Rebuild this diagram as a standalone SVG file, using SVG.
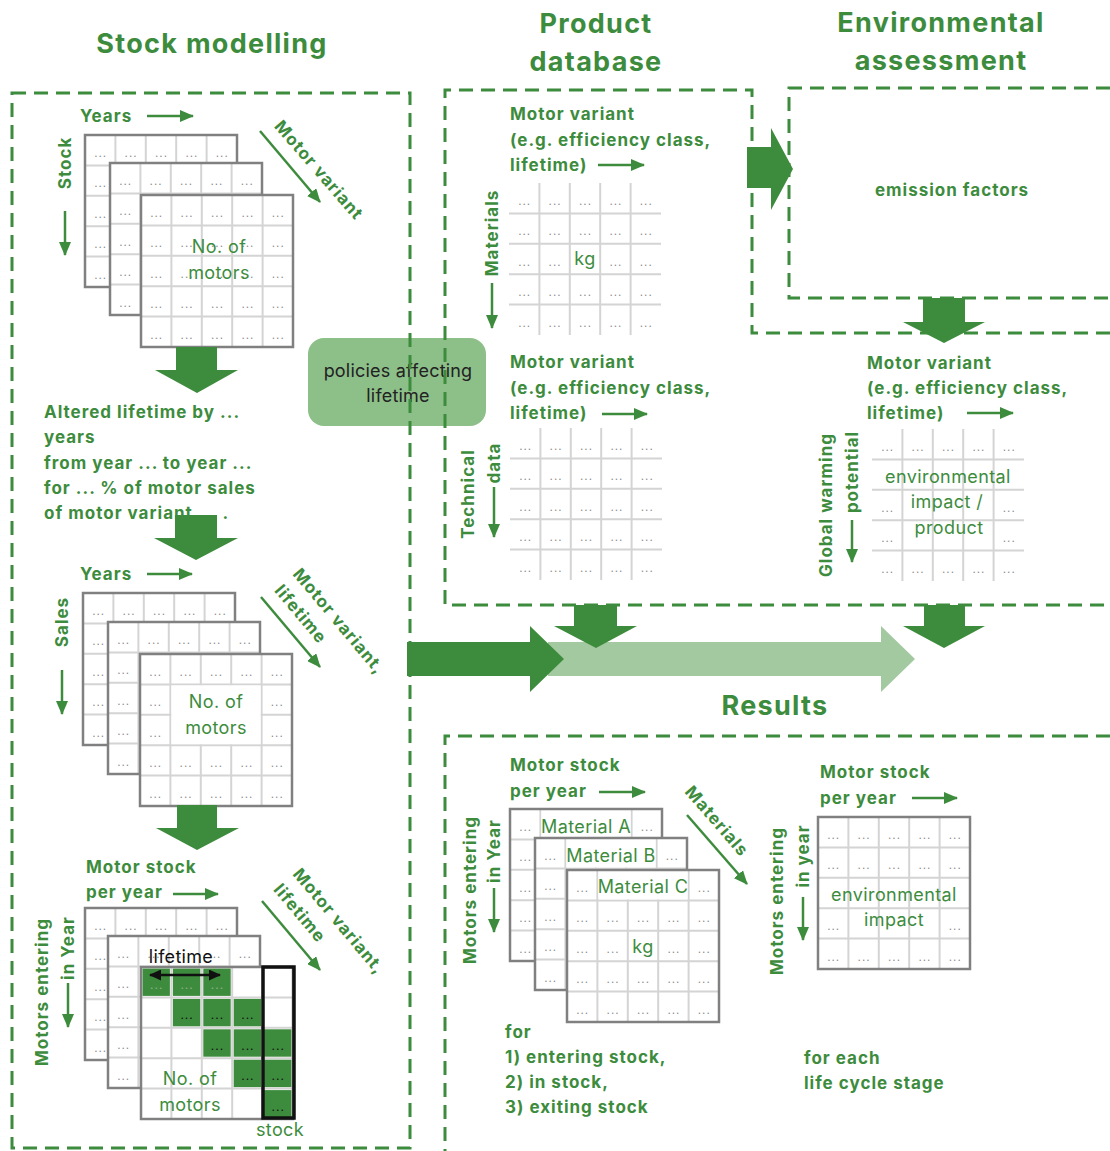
<svg xmlns="http://www.w3.org/2000/svg" width="1110" height="1151" viewBox="0 0 1110 1151">
<style>
text{font-family:Inter,"Open Sans","Liberation Sans",sans-serif}
.ttl{font-size:27px;font-weight:700;fill:#3d8c3d;text-anchor:middle;letter-spacing:1.3px}
.lb{font-size:17px;font-weight:700;fill:#3d8c3d;letter-spacing:1px}
.rg{font-size:18px;fill:#3d8c3d;letter-spacing:0.4px;text-anchor:middle}
.vc{text-anchor:middle;dominant-baseline:central}
.dot{font-family:"Liberation Sans",sans-serif;font-size:12px;fill:#8a8a8a;text-anchor:middle;letter-spacing:1px}
.box{fill:none;stroke:#3d8c3d;stroke-width:3;stroke-dasharray:14 8}
.ax{fill:none;stroke:#3d8c3d;stroke-width:2.5;marker-end:url(#ah)}
.il{fill:none;stroke:#d4d4d4;stroke-width:2}
.ob{fill:none;stroke:#808080;stroke-width:2.5}
.blk{fill:#3d8c3d}
.lt{fill:#a3c9a0}
.gc{fill:#3d8c3d}
</style>
<defs>
<marker id="ah" markerUnits="userSpaceOnUse" markerWidth="14" markerHeight="12" refX="13" refY="6" orient="auto"><path d="M0 0L14 6L0 12z" fill="#3d8c3d"/></marker>
<marker id="ahk" markerUnits="userSpaceOnUse" markerWidth="12" markerHeight="11" refX="11" refY="5.5" orient="auto-start-reverse"><path d="M0 0L12 5.5L0 11z" fill="#111"/></marker>
<g id="d"><text class="dot" x="15.7" y="22">...</text></g>
<g id="dr"><use href="#d"/><use href="#d" x="30.4"/><use href="#d" x="60.8"/><use href="#d" x="91.2"/><use href="#d" x="121.6"/></g>
<g id="edge"><use href="#d"/><use href="#d" x="121.6"/></g>
<g id="dd"><use href="#dr"/><use href="#dr" y="30.4"/><use href="#dr" y="60.8"/><use href="#dr" y="91.2"/><use href="#dr" y="121.6"/></g>
<g id="gl"><path class="il" d="M30.4 0V152M60.8 0V152M91.2 0V152M121.6 0V152M0 30.4H152M0 60.8H152M0 91.2H152M0 121.6H152"/></g>
<g id="grid"><rect width="152" height="152" fill="#fff"/><use href="#gl"/><use href="#dd"/><rect class="ob" width="152" height="152"/></g>
<g id="gridM"><rect width="152" height="152" fill="#fff"/><use href="#gl"/><use href="#edge"/><use href="#dr" y="30.4"/><use href="#dr" y="60.8"/><use href="#dr" y="91.2"/><use href="#dr" y="121.6"/><rect x="31.4" y="1" width="89.2" height="28.4" fill="#fff"/><rect class="ob" width="152" height="152"/></g>
</defs>

<rect width="1110" height="1151" fill="#fff"/>

<g id="titles">
<text class="ttl" x="212" y="53">Stock modelling</text>
<text class="ttl" x="596" y="33">Product</text>
<text class="ttl" x="596" y="71">database</text>
<text class="ttl" x="941" y="32">Environmental</text>
<text class="ttl" x="941" y="70">assessment</text>
<text class="ttl" x="775" y="715">Results</text>
</g>

<g id="policies">
<rect x="308" y="338" width="178" height="88" rx="16" fill="#8dbf89"/>
<text x="398" y="377" font-size="18" fill="#222" text-anchor="middle" letter-spacing="0.2">policies affecting</text>
<text x="398" y="402" font-size="18" fill="#222" text-anchor="middle" letter-spacing="0.2">lifetime</text>
</g>

<g id="frames">
<rect id="frame-stock" class="box" x="12" y="93" width="398" height="1055"/>
<path id="frame-product" class="box" d="M1110 333H752V90H445V605H1110"/>
<path id="frame-env" class="box" d="M1110 88H789V298H1110"/>
<path id="frame-results" class="box" d="M1110 736H445V1151"/>
</g>

<g id="stock-grid">
<text class="lb" x="80" y="122">Years</text>
<path class="ax" d="M147 116H193"/>
<text class="lb vc" transform="translate(65 163) rotate(-90)">Stock</text>
<path class="ax" d="M65 211V255"/>
<text class="lb vc" transform="translate(319 170) rotate(49)">Motor variant</text>
<path class="ax" d="M260 131L320 202"/>
<use href="#grid" x="85" y="135"/>
<use href="#grid" x="110" y="163"/>
<use href="#grid" x="141" y="195"/>
<text class="rg" x="219" y="253">No. of</text>
<text class="rg" x="219" y="279">motors</text>
</g>

<g id="altered-lifetime">
<text class="lb" x="44" y="418">Altered lifetime by ...</text>
<text class="lb" x="44" y="443">years</text>
<text class="lb" x="44" y="469">from year ... to year ...</text>
<text class="lb" x="44" y="494">for ... % of motor sales</text>
<text class="lb" x="44" y="519">of motor variant ... .</text>
</g>

<g id="sales-grid">
<text class="lb" x="80" y="580">Years</text>
<path class="ax" d="M147 574H192"/>
<text class="lb vc" transform="translate(62 622) rotate(-90)">Sales</text>
<path class="ax" d="M62 670V714"/>
<text class="lb vc" transform="translate(339 621) rotate(50)">Motor variant,</text>
<text class="lb vc" transform="translate(301 614) rotate(50)">lifetime</text>
<path class="ax" d="M261 597L320 667"/>
<use href="#grid" x="83" y="593"/>
<use href="#grid" x="108" y="622"/>
<use href="#grid" x="140" y="654"/>
<rect x="171.4" y="685.4" width="89.2" height="58.8" fill="#fff"/>
<text class="rg" x="216" y="708">No. of</text>
<text class="rg" x="216" y="734">motors</text>
</g>

<g id="motor-stock-grid">
<text class="lb" x="86" y="873">Motor stock</text>
<text class="lb" x="86" y="898">per year</text>
<path class="ax" d="M173 894H218"/>
<text class="lb vc" transform="translate(42 992) rotate(-90)">Motors entering</text>
<text class="lb vc" transform="translate(68 948) rotate(-90)">in Year</text>
<path class="ax" d="M68 983V1027"/>
<text class="lb vc" transform="translate(339 921) rotate(50)">Motor variant,</text>
<text class="lb vc" transform="translate(300 913) rotate(50)">lifetime</text>
<path class="ax" d="M262 901L320 970"/>
<use href="#grid" x="85" y="908"/>
<use href="#grid" x="108" y="936"/>
<rect x="141" y="967" width="152" height="152" fill="#fff"/>
<use href="#gl" x="141" y="967"/>
<g class="gc">
<rect x="142.5" y="968.5" width="27.4" height="27.4"/><rect x="172.9" y="968.5" width="27.4" height="27.4"/><rect x="203.3" y="968.5" width="27.4" height="27.4"/>
<rect x="172.9" y="998.9" width="27.4" height="27.4"/><rect x="203.3" y="998.9" width="27.4" height="27.4"/><rect x="233.7" y="998.9" width="27.4" height="27.4"/>
<rect x="203.3" y="1029.3" width="27.4" height="27.4"/><rect x="233.7" y="1029.3" width="27.4" height="27.4"/><rect x="264.1" y="1029.3" width="27.4" height="27.4"/>
<rect x="233.7" y="1059.7" width="27.4" height="27.4"/><rect x="264.1" y="1059.7" width="27.4" height="27.4"/>
<rect x="264.1" y="1090.1" width="27.4" height="27.4"/>
</g>
<g font-family="Liberation Sans,sans-serif" font-size="12" text-anchor="middle" letter-spacing="1">
<text x="156.7" y="989" fill="#8fae8f">...</text><text x="187.1" y="989" fill="#8fae8f">...</text><text x="217.5" y="989" fill="#8fae8f">...</text>
<text x="187.1" y="1019.4" fill="#111">...</text><text x="217.5" y="1019.4" fill="#111">...</text><text x="247.9" y="1019.4" fill="#111">...</text>
<text x="217.5" y="1049.8" fill="#111">...</text><text x="247.9" y="1049.8" fill="#111">...</text><text x="278.3" y="1049.8" fill="#111">...</text>
<text x="247.9" y="1080.2" fill="#111">...</text><text x="278.3" y="1080.2" fill="#111">...</text>
<text x="278.3" y="1110.6" fill="#111">...</text>
</g>
<rect class="ob" x="141" y="967" width="152" height="152"/>
<rect x="263" y="967" width="31" height="151" fill="none" stroke="#111" stroke-width="3.5"/>
<text class="rg" x="190" y="1085">No. of</text>
<text class="rg" x="190" y="1111">motors</text>
<text x="181" y="963" font-size="18" fill="#111" text-anchor="middle" letter-spacing="0.3">lifetime</text>
<path d="M150 975H220" stroke="#111" stroke-width="2.5" fill="none" marker-start="url(#ahk)" marker-end="url(#ahk)"/>
<text class="rg" x="280" y="1136">stock</text>
</g>

<g id="product-materials">
<text class="lb" x="510" y="120">Motor variant</text>
<text class="lb" x="510" y="146">(e.g. efficiency class,</text>
<text class="lb" x="510" y="171">lifetime)</text>
<path class="ax" d="M598 165H644"/>
<text class="lb vc" transform="translate(492 233) rotate(-90)">Materials</text>
<path class="ax" d="M492 283V328"/>
<g transform="translate(509 183)">
<use href="#gl"/>
<use href="#dr"/><use href="#dr" y="30.4"/>
<use href="#d" y="60.8"/><use href="#d" x="30.4" y="60.8"/><use href="#d" x="91.2" y="60.8"/><use href="#d" x="121.6" y="60.8"/>
<use href="#dr" y="91.2"/><use href="#dr" y="121.6"/>
</g>
<text class="rg" x="585" y="265">kg</text>
</g>

<g id="product-technical">
<text class="lb" x="510" y="368">Motor variant</text>
<text class="lb" x="510" y="394">(e.g. efficiency class,</text>
<text class="lb" x="510" y="419">lifetime)</text>
<path class="ax" d="M602 414H647"/>
<text class="lb vc" transform="translate(468 494) rotate(-90)">Technical</text>
<text class="lb vc" transform="translate(494 463) rotate(-90)">data</text>
<path class="ax" d="M494 487V537"/>
<g transform="translate(510 428)"><use href="#gl"/><use href="#dd"/></g>
</g>

<g id="emission-factors">
<text class="lb" x="952" y="196" text-anchor="middle" font-size="17">emission factors</text>
</g>

<g id="env-impact-product">
<text class="lb" x="867" y="369">Motor variant</text>
<text class="lb" x="867" y="394">(e.g. efficiency class,</text>
<text class="lb" x="867" y="419">lifetime)</text>
<path class="ax" d="M967 413H1013"/>
<text class="lb vc" transform="translate(826 505) rotate(-90)">Global warming</text>
<text class="lb vc" transform="translate(852 472) rotate(-90)">potential</text>
<path class="ax" d="M852 520V562"/>
<g transform="translate(872 429)">
<use href="#gl"/>
<use href="#dr"/>
<use href="#edge" y="60.8"/><use href="#edge" y="91.2"/>
<use href="#dr" y="121.6"/>
</g>
<text class="rg" x="948" y="483">environmental</text>
<text class="rg" x="947" y="508">impact /</text>
<text class="rg" x="949" y="534">product</text>
</g>

<g id="results-materials">
<text class="lb" x="510" y="771">Motor stock</text>
<text class="lb" x="510" y="797">per year</text>
<path class="ax" d="M599 792H645"/>
<text class="lb vc" transform="translate(470 890) rotate(-90)">Motors entering</text>
<text class="lb vc" transform="translate(494 851) rotate(-90)">in Year</text>
<path class="ax" d="M494 888V932"/>
<text class="lb vc" transform="translate(717 821) rotate(49)">Materials</text>
<path class="ax" d="M687 815L747 884"/>
<use href="#gridM" x="510" y="809"/>
<text class="rg" x="586" y="833">Material A</text>
<use href="#gridM" x="535" y="838"/>
<text class="rg" x="611" y="862">Material B</text>
<g transform="translate(567 870)">
<rect width="152" height="152" fill="#fff"/>
<use href="#gl"/>
<use href="#edge"/>
<use href="#dr" y="30.4"/>
<use href="#d" y="60.8"/><use href="#d" x="30.4" y="60.8"/><use href="#d" x="91.2" y="60.8"/><use href="#d" x="121.6" y="60.8"/>
<use href="#dr" y="91.2"/><use href="#dr" y="121.6"/>
<rect x="31.4" y="1" width="89.2" height="28.4" fill="#fff"/>
<rect class="ob" width="152" height="152"/>
</g>
<text class="rg" x="643" y="893">Material C</text>
<text class="rg" x="643" y="953">kg</text>
<text class="lb" x="505" y="1038">for</text>
<text class="lb" x="505" y="1063">1) entering stock,</text>
<text class="lb" x="505" y="1088">2) in stock,</text>
<text class="lb" x="505" y="1113">3) exiting stock</text>
</g>

<g id="results-impact">
<text class="lb" x="820" y="778">Motor stock</text>
<text class="lb" x="820" y="804">per year</text>
<path class="ax" d="M912 798H957"/>
<text class="lb vc" transform="translate(777 901) rotate(-90)">Motors entering</text>
<text class="lb vc" transform="translate(803 856) rotate(-90)">in year</text>
<path class="ax" d="M803 897V940"/>
<g transform="translate(818 817)">
<rect width="152" height="152" fill="#fff"/>
<use href="#gl"/>
<use href="#dr"/><use href="#dr" y="30.4"/>
<use href="#edge" y="91.2"/>
<use href="#dr" y="121.6"/>
<rect class="ob" width="152" height="152"/>
</g>
<text class="rg" x="894" y="901">environmental</text>
<text class="rg" x="894" y="926">impact</text>
<text class="lb" x="804" y="1064">for each</text>
<text class="lb" x="804" y="1089">life cycle stage</text>
</g>

<g id="connectors">
<path class="blk" d="M176 347H217V370H238L197 393L155 370H176Z"/>
<path class="blk" d="M175 515H217V538H238L196 560L154 538H175Z"/>
<path class="blk" d="M177 805H217V828H239L197 850L156 828H177Z"/>
<path class="blk" d="M747 147H771V128L793 169L771 210V188H747Z"/>
<path class="blk" d="M923 298H965V322H985L944 343L903 322H923Z"/>
<path class="lt" d="M548 642H881V626L915 659L881 692V676H548Z"/>
<path class="blk" d="M407 642H530V626L564 659L530 692V676H407Z"/>
<path class="blk" d="M574 605H617V626H637L596 648L554 626H574Z"/>
<path class="blk" d="M924 605H965V626H985L944 648L903 626H924Z"/>
</g>
</svg>
